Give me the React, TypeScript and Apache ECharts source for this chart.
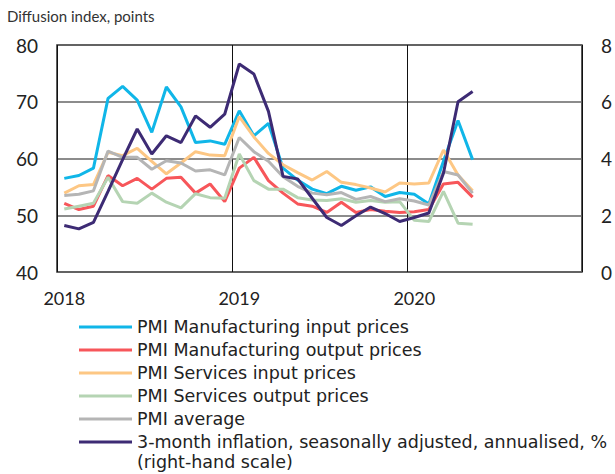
import React, { useEffect, useRef } from "react";
import * as echarts from "echarts";

const years = ["2018", "2019", "2020"];
const months = ["01", "02", "03", "04", "05", "06", "07", "08", "09", "10", "11", "12"];
const categories: string[] = [];
years.forEach((y) => months.forEach((m) => categories.push(`${y}-${m}`)));

const leftTicks = { min: 40, max: 80, interval: 10 };
const rightTicks = { min: 0, max: 8, interval: 2 };

const mfgInput = [56.5, 57.0, 58.3, 70.6, 72.7, 70.3, 64.6, 72.6, 69.1, 62.8, 63.1, 62.5, 68.4, 64.0, 66.2, 58.3, 56.2, 54.6, 53.8, 55.1, 54.4, 55.0, 53.3, 54.0, 53.7, 52.0, 59.5, 66.7, 59.8];
const mfgOutput = [52.1, 51.0, 51.6, 57.0, 55.2, 56.5, 54.6, 56.5, 56.7, 53.9, 55.5, 52.4, 58.3, 60.2, 56.1, 53.9, 52.0, 51.6, 50.5, 52.3, 50.5, 51.0, 50.7, 50.5, 50.6, 51.0, 55.5, 55.8, 53.2];
const svcInput = [53.9, 55.2, 55.4, 61.1, 60.5, 61.8, 59.5, 57.3, 59.2, 61.2, 60.6, 60.5, 67.4, 63.8, 60.9, 58.9, 57.5, 56.2, 57.7, 55.8, 55.4, 54.8, 54.1, 55.7, 55.5, 55.7, 61.5, 57.1, 54.3];
const svcOutput = [51.1, 51.6, 52.1, 56.7, 52.4, 52.1, 53.9, 52.3, 51.3, 53.8, 53.1, 53.0, 60.8, 56.1, 54.6, 54.6, 53.1, 52.7, 52.6, 52.9, 52.3, 52.6, 52.3, 52.4, 49.1, 48.9, 54.2, 48.6, 48.4];
const pmiAverage = [53.5, 53.7, 54.3, 61.3, 60.2, 60.2, 58.1, 59.6, 59.2, 57.8, 58.0, 57.1, 63.7, 61.2, 59.5, 56.8, 55.1, 53.9, 53.6, 54.0, 52.8, 53.3, 52.4, 52.9, 52.5, 51.8, 57.7, 57.1, 53.9];
const inflation3m = [1.64, 1.52, 1.75, 2.84, 3.96, 5.04, 4.16, 4.8, 4.56, 5.5, 5.1, 5.56, 7.33, 6.98, 5.66, 3.37, 3.28, 2.6, 1.92, 1.64, 1.98, 2.29, 2.06, 1.78, 1.92, 2.08, 3.48, 6.0, 6.36];

const seriesNames = [
  "PMI Manufacturing input prices",
  "PMI Manufacturing output prices",
  "PMI Services input prices",
  "PMI Services output prices",
  "PMI average",
  "3-month inflation, seasonally adjusted, annualised, %",
];
const seriesColors = ["#10b6e8", "#f7565a", "#fdc784", "#b5d4b3", "#b5b5b5", "#3d2b74"];
const seriesData = [mfgInput, mfgOutput, svcInput, svcOutput, pmiAverage, inflation3m];
const seriesAxis = [0, 0, 0, 0, 0, 1];

const yAxisTitle = "Diffusion index, points";
const legendNote = "(right-hand scale)";

const FONT = "Lato, 'Open Sans', sans-serif";
const LEGEND_FONT = "'DejaVu Sans', sans-serif";
const TEXT = "#222";

export default function App() {
  const ref = useRef<HTMLDivElement>(null);
  useEffect(() => {
    document.body.style.margin = "0";
    if (!ref.current) return;
    const chart = echarts.init(ref.current, undefined, { renderer: "svg" });
    chart.setOption({
      animation: false,
      textStyle: { fontFamily: FONT, color: TEXT },
      grid: {
        left: 57,
        right: 31,
        top: 45,
        bottom: 202,
        show: true,
        borderColor: "#2a2a2a",
        borderWidth: 1.5,
        backgroundColor: "transparent",
      },
      legend: {
        orient: "vertical",
        left: 79,
        top: 317,
        padding: 0,
        itemWidth: 53,
        itemHeight: 3,
        itemGap: 3,
        icon: "rect",
        data: seriesNames,
        textStyle: { fontFamily: LEGEND_FONT, fontSize: 17.5, color: TEXT, lineHeight: 20 },
      },
      graphic: [
        {
          type: "text",
          left: 7,
          top: 8,
          style: { text: yAxisTitle, fontFamily: FONT, fontSize: 15, fill: "#333" },
        },
        {
          type: "text",
          left: 137,
          top: 453,
          style: { text: legendNote, fontFamily: LEGEND_FONT, fontSize: 17.5, lineHeight: 18, fill: TEXT },
        },
      ],
      xAxis: {
        type: "category",
        data: categories,
        boundaryGap: true,
        axisLine: { show: false },
        axisTick: { show: false },
        axisLabel: {
          interval: (i: number) => i % 12 === 0,
          formatter: (v: string) => v.slice(0, 4),
          fontSize: 18,
          color: TEXT,
          margin: 17,
        },
        splitLine: {
          show: true,
          interval: (i: number) => i % 12 === 0,
          lineStyle: { color: "#111", width: 1 },
        },
      },
      yAxis: [
        {
          type: "value",
          ...leftTicks,
          position: "left",
          axisLine: { show: false },
          axisTick: { show: false },
          axisLabel: { fontSize: 19, color: TEXT, margin: 19 },
          splitLine: { show: true, lineStyle: { color: "#666", width: 1.5 } },
        },
        {
          type: "value",
          ...rightTicks,
          position: "right",
          axisLine: { show: false },
          axisTick: { show: false },
          axisLabel: { fontSize: 19, color: TEXT, margin: 19 },
          splitLine: { show: false },
        },
      ],
      series: seriesNames.map((name, k) => ({
        name,
        type: "line",
        yAxisIndex: seriesAxis[k],
        data: seriesData[k],
        symbol: "none",
        color: seriesColors[k],
        lineStyle: { width: 3, color: seriesColors[k] },
        z: 2 + k,
      })),
    });
    return () => chart.dispose();
  }, []);
  return <div ref={ref} style={{ width: 615, height: 474 }} />;
}
